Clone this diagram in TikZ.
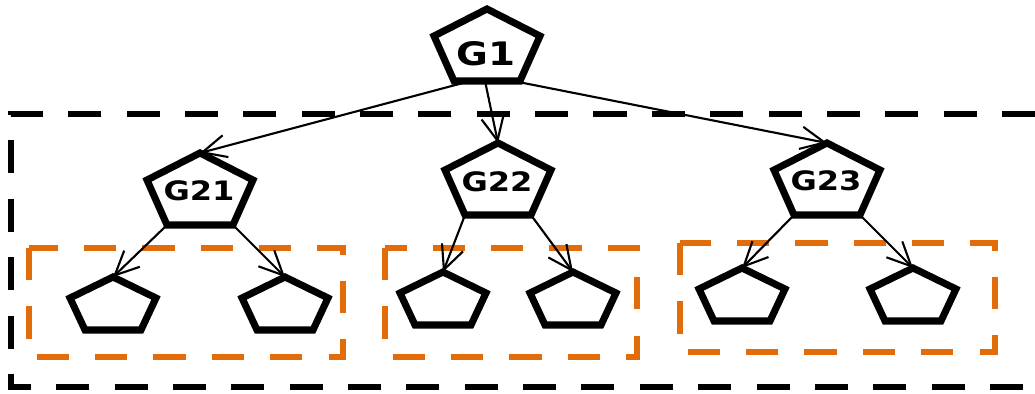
\documentclass[tikz,border=0pt]{standalone}
\usepackage{fontspec}
\newfontfamily\labelfont[FakeStretch=1.2]{DejaVu Sans}
\usepackage{tikz}
\usetikzlibrary{calc, arrows.meta}
\definecolor{grouporange}{RGB}{227,108,10}

\begin{document}
\begin{tikzpicture}[x=0.025cm,y=-0.025cm,
    pentline/.style={line width=5pt,line join=miter},
    link/.style={-{Straight Barb[length=17pt,width=16pt]},line width=1.5pt},
    outerbox/.style={line width=4.6pt,dash pattern=on 23.5pt off 18pt},
    innerbox/.style={grouporange,line width=3.6pt,dash pattern=on 23pt off 18.5pt},
    pics/bigpent/.style={code={
        \draw[pentline] (0,0) -- (53,27) -- (33,72) -- (-33,72) -- (-53,27) -- cycle;
        \coordinate (-top) at (0,0);
        \coordinate (-bl) at (-33,72);
        \coordinate (-br) at (33,72);
    }},
    pics/smallpent/.style={code={
        \draw[pentline] (0,0) -- (43,21) -- (28,53) -- (-28,53) -- (-43,21) -- cycle;
        \coordinate (-top) at (0,0);
    }}]
    \useasboundingbox (0,0) rectangle (1035,394);
    % 枠
    \draw[outerbox] (1035,114) -- (11,114) -- (11,387) -- (1035,387);
    \draw[innerbox] (29,248) rectangle (343,357);
    \draw[innerbox] (385,248) rectangle (637,357);
    \draw[innerbox] (680,243) rectangle (995,352);
    % 親
    \pic (g1) at (487,9) {bigpent};
    \node[font=\labelfont\bfseries\fontsize{23}{25}\selectfont] (g1txt) at (486,54) {G1};
    % 子
    \pic (g21) at (200,153) {bigpent};
    \pic (g22) at (498,143) {bigpent};
    \pic (g23) at (827,143) {bigpent};
    \node[font=\labelfont\bfseries\fontsize{19}{21}\selectfont] (g21txt) at (199,191) {G21};
    \node[font=\labelfont\bfseries\fontsize{19}{21}\selectfont] (g22txt) at (497,182) {G22};
    \node[font=\labelfont\bfseries\fontsize{19}{21}\selectfont] (g23txt) at (826,181) {G23};
    % 孫
    \pic (l1) at (113,277) {smallpent};
    \pic (l2) at (285,277) {smallpent};
    \pic (l3) at (443,272) {smallpent};
    \pic (l4) at (573,272) {smallpent};
    \pic (l5) at (742,268) {smallpent};
    \pic (l6) at (913,268) {smallpent};
    % 矢印
    \draw[link] ($(g1-bl)!0.25!(g1-br)$) -- (g21-top);
    \draw[link] ($(g1-bl)!0.47!(g1-br)$) -- (g22-top);
    \draw[link] ($(g1-bl)!0.9!(g1-br)$) -- (g23-top);
    \draw[link] (g21-bl) -- (l1-top);
    \draw[link] (g21-br) -- (l2-top);
    \draw[link] (g22-bl) -- (l3-top);
    \draw[link] (g22-br) -- (l4-top);
    \draw[link] (g23-bl) -- (l5-top);
    \draw[link] (g23-br) -- (l6-top);
\end{tikzpicture}
\end{document}
